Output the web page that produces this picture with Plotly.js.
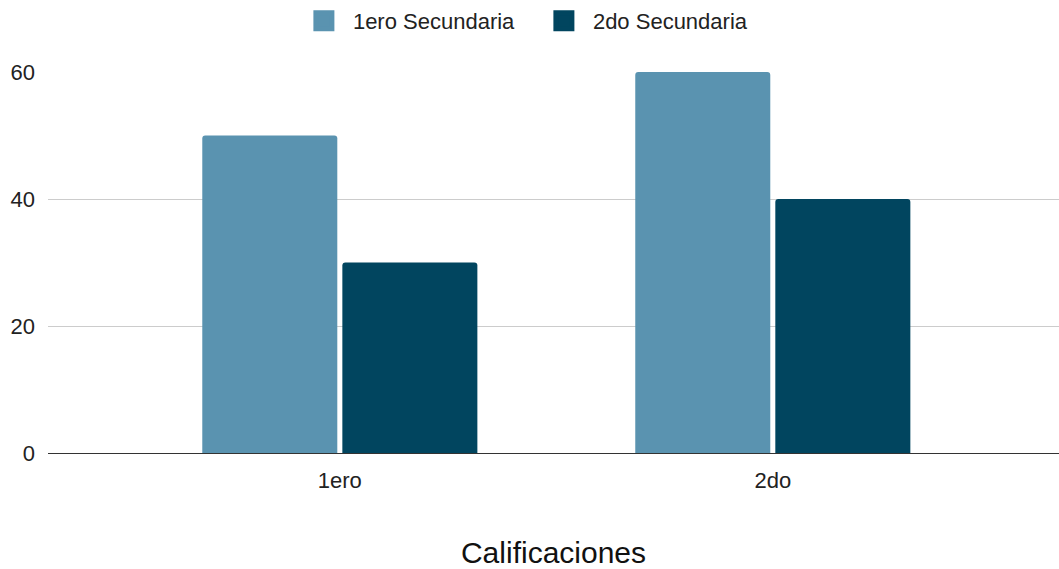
<!DOCTYPE html>
<html>
<head>
<meta charset="utf-8">
<script src="https://cdn.plot.ly/plotly-3.0.1.min.js"></script>
<style>html,body{margin:0;padding:0;background:#fff;}#chart{width:1059px;height:569px;}</style>
</head>
<body>
<div id="chart"></div>
<script>
const categories = ["1ero", "2do"];
const seriesNames = ["1ero Secundaria", "2do Secundaria"];
const primero = [50, 60];
const segundo = [30, 40];
const yTicks = [0, 20, 40, 60];
const colors = ["#5a93b0", "#01455f"];

const traces = [
  {type: "bar", x: categories, y: primero, name: seriesNames[0], marker: {color: colors[0], cornerradius: 3}, showlegend: false, hoverinfo: "y"},
  {type: "bar", x: categories, y: segundo, name: seriesNames[1], marker: {color: colors[1], cornerradius: 3}, showlegend: false, hoverinfo: "y"},
  {type: "scatter", mode: "markers", x: [null], y: [null], name: seriesNames[0], marker: {symbol: "square", size: 16, color: colors[0], line: {color: colors[0], width: 5}}},
  {type: "scatter", mode: "markers", x: [null], y: [null], name: seriesNames[1], marker: {symbol: "square", size: 16, color: colors[1], line: {color: colors[1], width: 5}}}
];

const layout = {
  width: 1059, height: 569,
  margin: {l: 48, r: 0, t: 72, b: 116},
  paper_bgcolor: "#fff", plot_bgcolor: "#fff",
  font: {family: "Liberation Sans, Arial, sans-serif", size: 22, color: "#222"},
  barmode: "group",
  bargap: 0.353,
  bargroupgap: 0.036,
  showlegend: true,
  legend: {orientation: "h", x: 0.4816, xanchor: "center", y: 1.0, yanchor: "top", yref: "container", font: {size: 22, color: "#222"}, itemwidth: 48, entrywidth: 177, tracegroupgap: 0},
  xaxis: {
    type: "category",
    range: [-0.674, 1.661],
    showgrid: false, zeroline: false, showline: false,
    ticks: "", tickfont: {size: 22, color: "#222"},
    ticklabelstandoff: 12,
    title: {text: "Calificaciones", font: {size: 30, color: "#111"}, standoff: 54}
  },
  yaxis: {
    range: [0, 60],
    tickvals: yTicks,
    gridcolor: "#cccccc", gridwidth: 1,
    zeroline: true, zerolinecolor: "#333333", zerolinewidth: 1,
    showline: false, ticks: "",
    tickfont: {size: 22, color: "#222"},
    ticklabelstandoff: 12
  }
};

Plotly.newPlot("chart", traces, layout, {displayModeBar: false, staticPlot: true});
</script>
</body>
</html>
